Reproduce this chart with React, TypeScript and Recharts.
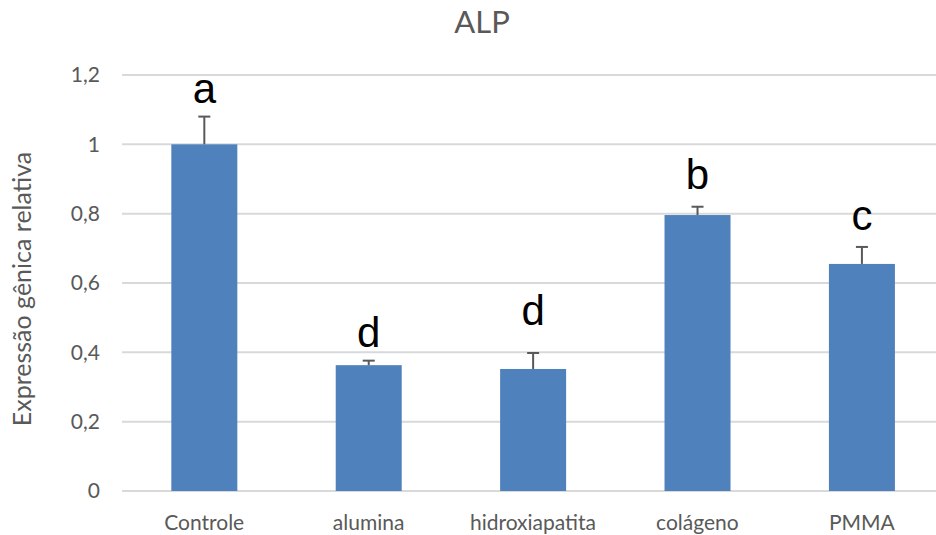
import { ComposedChart, CartesianGrid, XAxis, YAxis, Bar } from "recharts";

const categories = ["Controle", "alumina", "hidroxiapatita", "colágeno", "PMMA"];
const means = [1.0, 0.363, 0.352, 0.796, 0.655];
const errors = [0.08, 0.013, 0.046, 0.024, 0.049];
const letters = ["a", "d", "d", "b", "c"];
// where each significance letter sits (baseline, in axis units)
const letterAt = [1.12, 0.416, 0.478, 0.872, 0.754];
const yTicks = [0, 0.2, 0.4, 0.6, 0.8, 1, 1.2];

const data = categories.map((name, i) => ({
  name,
  mean: means[i],
  err: errors[i],
  letter: letters[i],
  letterAt: letterAt[i],
}));

const gray = "#595959";
const bodyFont = "Lato, 'Open Sans', sans-serif";

const formatTick = (v: number) => String(Number(v.toFixed(1))).replace(".", ",");

const BarWithError = (props: any) => {
  const { x, y, width, height, payload } = props;
  const pxPerUnit = height / payload.mean;
  const cx = x + width / 2;
  const errTop = y - payload.err * pxPerUnit;
  const letterY = y - (payload.letterAt - payload.mean) * pxPerUnit;
  return (
    <g>
      <rect x={x} y={y} width={width} height={height} fill="#4F81BD" />
      <line x1={cx} y1={y} x2={cx} y2={errTop} stroke={gray} strokeWidth={2} />
      <line x1={cx - 6} y1={errTop} x2={cx + 6} y2={errTop} stroke={gray} strokeWidth={2} />
      <text
        x={cx}
        y={letterY}
        textAnchor="middle"
        fontSize={42}
        fontFamily="'Liberation Sans', Arial, sans-serif"
        fill="#000"
      >
        {payload.letter}
      </text>
    </g>
  );
};

export default function App() {
  return (
    <div
      style={{
        position: "absolute",
        left: 0,
        top: 0,
        width: 936,
        height: 535,
        overflow: "hidden",
        background: "#fff",
      }}
    >
      <style>{`html, body { margin: 0; overflow: hidden; }`}</style>
      <ComposedChart
        width={936}
        height={535}
        data={data}
        margin={{ top: 75, right: 0, bottom: 0, left: 0 }}
        barCategoryGap="30%"
      >
        <CartesianGrid vertical={false} stroke="#d9d9d9" strokeWidth={2} />
        <XAxis
          dataKey="name"
          axisLine={false}
          tickLine={false}
          tickSize={0}
          tickMargin={24}
          height={44}
          interval={0}
          padding={{ left: 0, right: -8 }}
          tick={{ fill: gray, fontSize: 21, fontFamily: bodyFont }}
        />
        <YAxis
          domain={[0, 1.2]}
          ticks={yTicks}
          width={122}
          axisLine={false}
          tickLine={false}
          tickSize={0}
          tickMargin={22}
          tickFormatter={formatTick}
          tick={{ fill: gray, fontSize: 21, fontFamily: bodyFont }}
        />
        <Bar dataKey="mean" isAnimationActive={false} shape={BarWithError} />
      </ComposedChart>
      <svg
        width={936}
        height={535}
        style={{ position: "absolute", left: 0, top: 0, pointerEvents: "none" }}
      >
        <text x={482} y={33} textAnchor="middle" fontSize={31} fill={gray} fontFamily={bodyFont}>
          ALP
        </text>
        <text
          x={31}
          y={289}
          transform="rotate(-90 31 289)"
          textAnchor="middle"
          fontSize={25}
          fill={gray}
          fontFamily={bodyFont}
        >
          Expressão gênica relativa
        </text>
      </svg>
    </div>
  );
}
